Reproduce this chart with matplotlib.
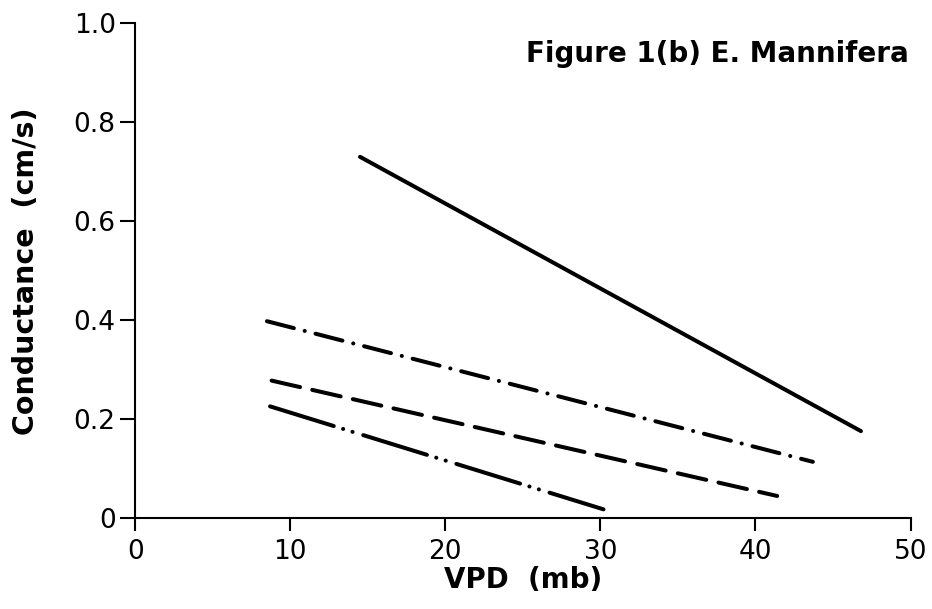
import matplotlib.pyplot as plt

plt.rcParams['font.family'] = ['DejaVu Sans']
plt.rcParams['lines.scale_dashes'] = False

# line end points (VPD mb, conductance cm/s)
solid_x = [14.5, 46.8]
solid_y = [0.73, 0.176]
dashdot_x = [8.5, 43.7]
dashdot_y = [0.398, 0.114]
dashed_x = [8.8, 41.4]
dashed_y = [0.278, 0.045]
dashdotdot_x = [8.7, 30.2]
dashdotdot_y = [0.226, 0.018]

xticks = [0, 10, 20, 30, 40, 50]
yticks = [0, 0.2, 0.4, 0.6, 0.8, 1.0]
ytick_labels = ["0", "0.2", "0.4", "0.6", "0.8", "1.0"]

fig = plt.figure(figsize=(9.32, 6.09), dpi=100)
ax = fig.add_axes([0.145, 0.149, 0.832, 0.813])

lw = 2.9
ax.plot(solid_x, solid_y, color="black", lw=lw, solid_capstyle="round")
ax.plot(dashdot_x, dashdot_y, color="black", lw=lw, dash_capstyle="round",
        dashes=(20, 8, 0.1, 8))
ax.plot(dashed_x, dashed_y, color="black", lw=lw, dash_capstyle="round",
        dashes=(21, 9))
ax.plot(dashdotdot_x, dashdotdot_y, color="black", lw=lw, dash_capstyle="round",
        dashes=(48, 7, 0.1, 7, 0.1, 8))

ax.set_xlim(0, 50)
ax.set_ylim(0, 1.0)
ax.spines["top"].set_visible(False)
ax.spines["right"].set_visible(False)
ax.spines["left"].set_linewidth(1.5)
ax.spines["bottom"].set_linewidth(1.5)
ax.set_xticks(xticks)
ax.set_yticks(yticks)
ax.set_yticklabels(ytick_labels)
ax.tick_params(axis="y", length=11, width=1.5, labelsize=19, pad=3)
ax.tick_params(axis="x", length=9, width=1.5, labelsize=19, pad=6)

ax.set_xlabel("VPD  (mb)", fontsize=20, fontweight="bold", labelpad=1)
ax.set_ylabel("Conductance  (cm/s)", fontsize=20.5, fontweight="bold", labelpad=24)
ax.text(49.9, 0.937, "Figure 1(b) E. Mannifera", fontsize=20, fontweight="bold",
        ha="right", va="center")

fig.savefig("out.png", dpi=100)
